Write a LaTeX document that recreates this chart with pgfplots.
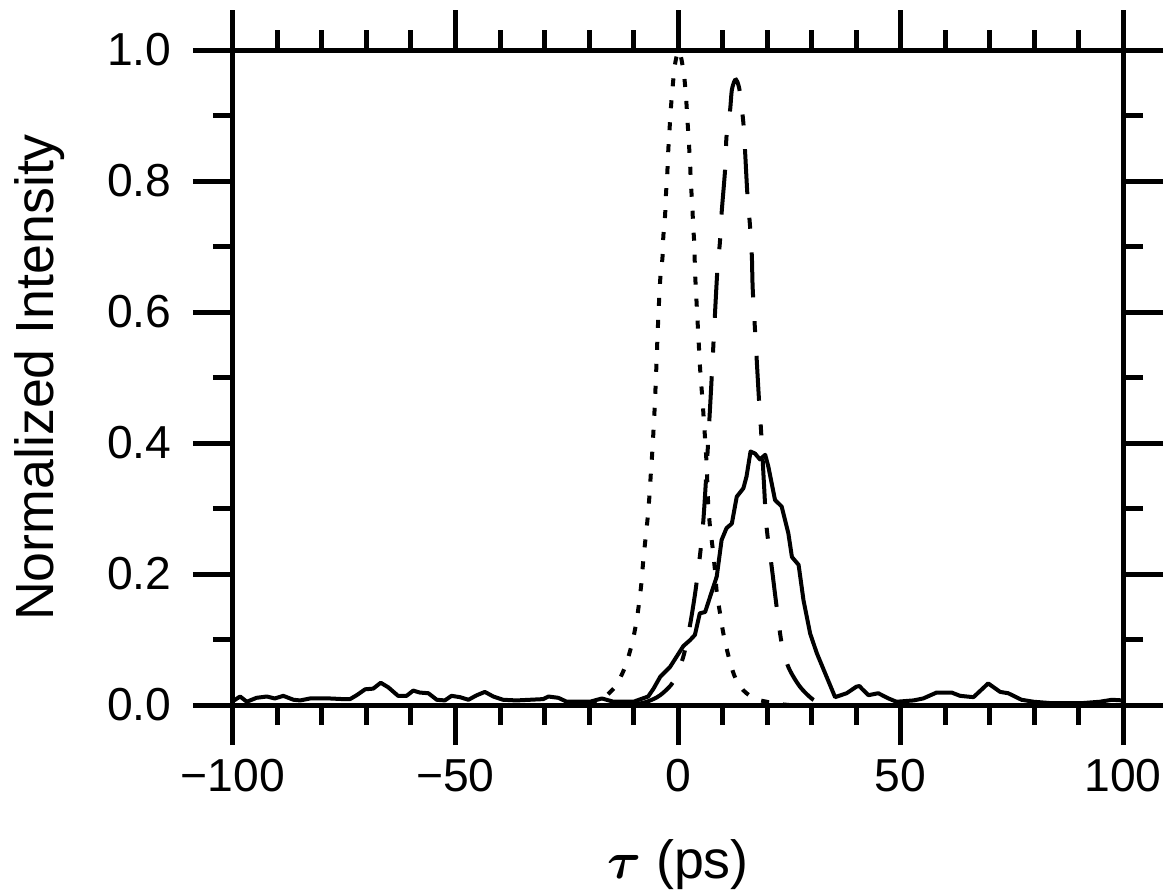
\documentclass[border=0pt]{standalone}
\usepackage{fontspec}
\setmainfont{Liberation Sans}
\usepackage{bm}
\usepackage{pgfplots}
\pgfplotsset{compat=1.18}

\pgfplotstableread{
x y
-25 0
-20 0.002
-17 0.009
-15.5 0.018
-13.8 0.031
-11.9 0.058
-10.4 0.092
-9.4 0.125
-8.7 0.158
-8.2 0.188
-7.8 0.221
-7.3 0.254
-6.8 0.287
-6.4 0.321
-6.1 0.354
-5.8 0.384
-5.5 0.42
-5.2 0.46
-4.9 0.51
-4.5 0.58
-4.0 0.649
-3.5 0.682
-3.3 0.715
-2.9 0.748
-2.7 0.780
-2.4 0.813
-2.2 0.845
-1.9 0.879
-1.6 0.911
-1.2 0.944
-0.7 0.977
0 0.998
0.5 0.995
1.35 0.962
1.8 0.928
2.1 0.896
2.4 0.863
2.7 0.829
2.9 0.796
3.2 0.764
3.4 0.733
3.7 0.699
3.8 0.665
4.0 0.637
4.6 0.56
5.0 0.51
5.5 0.466
5.8 0.435
6.1 0.405
6.4 0.371
6.6 0.338
6.8 0.305
7.2 0.272
7.8 0.239
8.3 0.206
8.7 0.173
9.4 0.142
10.2 0.109
11.3 0.076
12.6 0.046
14.0 0.028
15.4 0.018
17.5 0.009
19.9 0.005
22 0.002
25 0
}\dotted

\pgfplotstableread{
x y
-15 0
-10 0.001
-7.0 0.005
-4.0 0.015
-1.0 0.036
1.2 0.074
2.7 0.122
4.2 0.188
5.7 0.282
7.3 0.466
8.8 0.659
9.4 0.705
9.8 0.751
10.6 0.819
10.9 0.868
11.7 0.908
12.1 0.939
12.8 0.954
13.3 0.952
13.9 0.936
14.7 0.888
15.1 0.842
15.6 0.779
16.2 0.730
16.6 0.684
16.8 0.634
17.5 0.55
18.2 0.466
18.7 0.415
19.3 0.34
19.9 0.272
21.0 0.214
22.2 0.148
23.3 0.094
24.8 0.058
27.4 0.028
30.4 0.008
33 0.001
36 0
}\dashed

\pgfplotstableread{
x y
-100 0.006
-98.4 0.013
-96.9 0.005
-94.7 0.011
-92.4 0.013
-90.6 0.010
-88.7 0.014
-86.4 0.008
-84.9 0.007
-82.7 0.010
-80.4 0.010
-78.2 0.010
-75.2 0.009
-73.7 0.009
-72.2 0.015
-70.3 0.024
-68.5 0.025
-66.8 0.034
-65.1 0.027
-62.9 0.014
-61.0 0.014
-59.5 0.022
-58.0 0.019
-56.1 0.018
-54.2 0.008
-52.4 0.007
-50.9 0.014
-49.0 0.012
-47.1 0.008
-45.2 0.015
-43.4 0.020
-41.5 0.013
-39.3 0.008
-36.3 0.007
-33.3 0.008
-30.3 0.009
-29.1 0.013
-26.9 0.011
-25.0 0.005
-22.0 0.005
-19.8 0.005
-17.1 0.010
-14.5 0.005
-10.0 0.005
-6.7 0.013
-5.5 0.025
-4.0 0.043
-1.8 0.058
-0.3 0.074
1.2 0.090
2.7 0.099
3.8 0.107
4.9 0.140
6.1 0.142
7.2 0.165
8.7 0.196
9.8 0.252
10.9 0.270
12.1 0.277
13.2 0.318
14.7 0.331
15.4 0.349
16.3 0.387
17.3 0.384
18.4 0.375
19.6 0.382
20.3 0.364
21.8 0.313
23.3 0.303
24.8 0.262
25.6 0.226
27.1 0.214
28.2 0.160
29.7 0.109
31.2 0.079
33.4 0.043
35.3 0.012
37.9 0.018
40.1 0.028
40.8 0.029
41.3 0.025
42.8 0.015
45.0 0.018
47.3 0.010
49.1 0.005
52.9 0.007
55.1 0.010
58.1 0.019
61.5 0.019
63.4 0.014
66.4 0.012
69.7 0.033
72.4 0.020
74.2 0.018
77.2 0.008
79.9 0.005
83.6 0.003
91.0 0.003
94.8 0.005
97.5 0.008
100 0.007
}\solid

\begin{document}
\begin{tikzpicture}
\begin{axis}[
  scale only axis, width=356pt, height=262pt,
  xmin=-100, xmax=100, ymin=0, ymax=1,
  axis line style={line width=2pt},
  tick style={line width=2pt, black},
  tick align=outside,
  major tick length=16pt, minor tick length=8pt,
  xtick={-100,-50,0,50,100}, xticklabels={−100,−50,0,50,100},
  minor x tick num=4,
  ytick={0,0.2,0.4,0.6,0.8,1}, yticklabels={0.0,0.2,0.4,0.6,0.8,1.0},
  minor y tick num=1,
  tick label style={font=\fontsize{18.5}{20}\selectfont},
  yticklabel style={anchor=east, inner sep=0pt, xshift=-8.4pt},
  xticklabel style={anchor=north, inner sep=0pt, yshift=-5.6pt},
  label style={font=\fontsize{21.5}{24}\selectfont},
  xlabel={$\bm{\tau}$ (ps)},
  ylabel={Normalized Intensity},
  xlabel style={at={(axis description cs:0.5,-0.2641)}, anchor=base},
  ylabel style={at={(axis description cs:-0.2022,0.5)}, anchor=base},
  clip=false,
]
\addplot[black, line width=1.6pt, line join=round] table[x=x,y=y] {\solid};
\addplot[black, line width=1.6pt, smooth, dash pattern=on 18pt off 9.5pt on 4.4pt off 9.5pt, dash phase=32pt] table[x=x,y=y] {\dashed};
\addplot[black, line width=1.6pt, smooth, dash pattern=on 3.2pt off 5.6pt] table[x=x,y=y] {\dotted};
\coordinate (SW) at (rel axis cs:0,0);
\coordinate (NE) at (rel axis cs:1,1);
\end{axis}
\pgfresetboundingbox
\path ([shift={(-93.2pt,-75.2pt)}]SW) rectangle ([shift={(18.8pt,20pt)}]NE);
\end{tikzpicture}
\end{document}
